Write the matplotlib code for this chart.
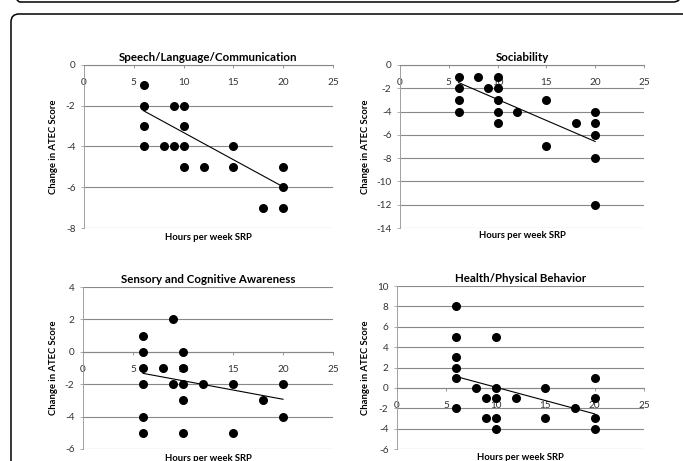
import matplotlib
matplotlib.use('Agg')
import matplotlib.pyplot as plt
from matplotlib.patches import FancyBboxPatch
from matplotlib.transforms import IdentityTransform

plt.rcParams['font.family'] = ['Lato', 'DejaVu Sans']
plt.rcParams['axes.unicode_minus'] = False

# Data (hours per week SRP vs change in ATEC score)
speech_x = [6, 6, 6, 6, 8, 9, 9, 10, 10, 10, 10, 12, 15, 15, 18, 20, 20, 20]
speech_y = [-1, -2, -3, -4, -4, -2, -4, -2, -3, -4, -5, -5, -4, -5, -7, -5, -6, -7]
speech_trend = [-2.25, -5.98]

social_x = [6, 6, 6, 6, 8, 9, 10, 10, 10, 10, 10, 12, 15, 15, 18, 20, 20, 20, 20, 20]
social_y = [-1, -2, -3, -4, -1, -2, -1, -2, -3, -4, -5, -4, -3, -7, -5, -4, -5, -6, -8, -12]
social_trend = [-1.51, -6.57]

sensory_x = [6, 6, 6, 6, 6, 6, 8, 9, 9, 10, 10, 10, 10, 10, 12, 15, 15, 18, 20, 20]
sensory_y = [1, 0, -1, -2, -4, -5, -1, 2, -2, 0, -1, -2, -3, -5, -2, -2, -5, -3, -2, -4]
sensory_trend = [-1.33, -2.93]

health_x = [6, 6, 6, 6, 6, 6, 8, 9, 9, 10, 10, 10, 10, 10, 12, 15, 15, 18, 20, 20, 20, 20]
health_y = [8, 5, 3, 2, 1, -2, 0, -1, -3, 5, 0, -1, -3, -4, -1, 0, -3, -2, 1, -1, -3, -4]
health_trend = [1.11, -2.55]

trend_x = [6, 20]
x_ticks = [0, 5, 10, 15, 20, 25]

titles = ['Speech/Language/Communication', 'Sociability',
          'Sensory and Cognitive Awareness', 'Health/Physical Behavior']
y_ranges = [(-8, 0), (-14, 0), (-6, 4), (-6, 10)]

W, H = 683, 461
fig = plt.figure(figsize=(W / 100, H / 100), dpi=100)
fig.patch.set_facecolor('white')

# rounded frames (pixel coords, y from bottom)
top_box = FancyBboxPatch((12, H - 2), 669, 60, boxstyle='round,pad=0,rounding_size=8',
                         transform=IdentityTransform(), fill=False, ec='black', lw=1.1)
low_box = FancyBboxPatch((11, -40), 700, H - 14 + 40, boxstyle='round,pad=0,rounding_size=8',
                         transform=IdentityTransform(), fill=False, ec='black', lw=1.1)
fig.patches.extend([top_box, low_box])

# axes boxes in image pixels: left, right, top, bottom
boxes = [(84, 333, 65, 228), (400, 644, 65, 228), (83, 333, 287, 449), (397, 644, 286, 449)]
ylab_off = [-31, -35, -30, -32]
xlab_off = [-9, -7, -9, -8]

panels = [(speech_x, speech_y, speech_trend), (social_x, social_y, social_trend),
          (sensory_x, sensory_y, sensory_trend), (health_x, health_y, health_trend)]

grid_c = '#888888'
for i, (xs, ys, tr) in enumerate(panels):
    l, r, t, b = boxes[i]
    ax = fig.add_axes([l / W, (H - b) / H, (r - l) / W, (b - t) / H])
    ax.set_facecolor('none')
    ymin, ymax = y_ranges[i]
    ax.set_xlim(0, 25)
    ax.set_ylim(ymin, ymax)
    ax.set_xticks(x_ticks)
    ax.set_yticks(range(ymin, ymax + 1, 2))
    ax.grid(axis='y', color=grid_c, lw=0.8)
    for s in ['top', 'right']:
        ax.spines[s].set_visible(False)
    ax.spines['left'].set_color('#a0a0a0')
    ax.spines['left'].set_linewidth(0.7)
    ax.spines['bottom'].set_position(('data', 0))
    ax.spines['bottom'].set_color(grid_c)
    ax.spines['bottom'].set_linewidth(0.8)
    ax.tick_params(axis='x', length=2.2, width=0.6, color=grid_c, pad=7,
                   labelsize=7.2, labelcolor='#333333')
    ax.tick_params(axis='y', length=2.2, width=0.6, color='#a0a0a0', pad=4,
                   labelsize=7.2, labelcolor='#333333')

    ax.scatter(xs, ys, s=30, color='black', zorder=3, clip_on=False)
    ax.plot(trend_x, tr, color='black', lw=0.8, zorder=3)

    ax.set_title(titles[i], fontsize=8.3, fontweight='bold', pad=3)
    ax.annotate('Hours per week SRP', xy=(0.5, 0), xycoords='axes fraction',
                xytext=(0, xlab_off[i] * 0.72), textcoords='offset points',
                ha='center', va='center', fontsize=6.8, fontweight='bold',
                annotation_clip=False)
    ax.annotate('Change in ATEC Score', xy=(0, 0.5), xycoords='axes fraction',
                xytext=(ylab_off[i] * 0.72, 0), textcoords='offset points',
                ha='center', va='center', rotation=90, fontsize=6.8, fontweight='bold',
                annotation_clip=False)

fig.savefig('out.png', dpi=100)
